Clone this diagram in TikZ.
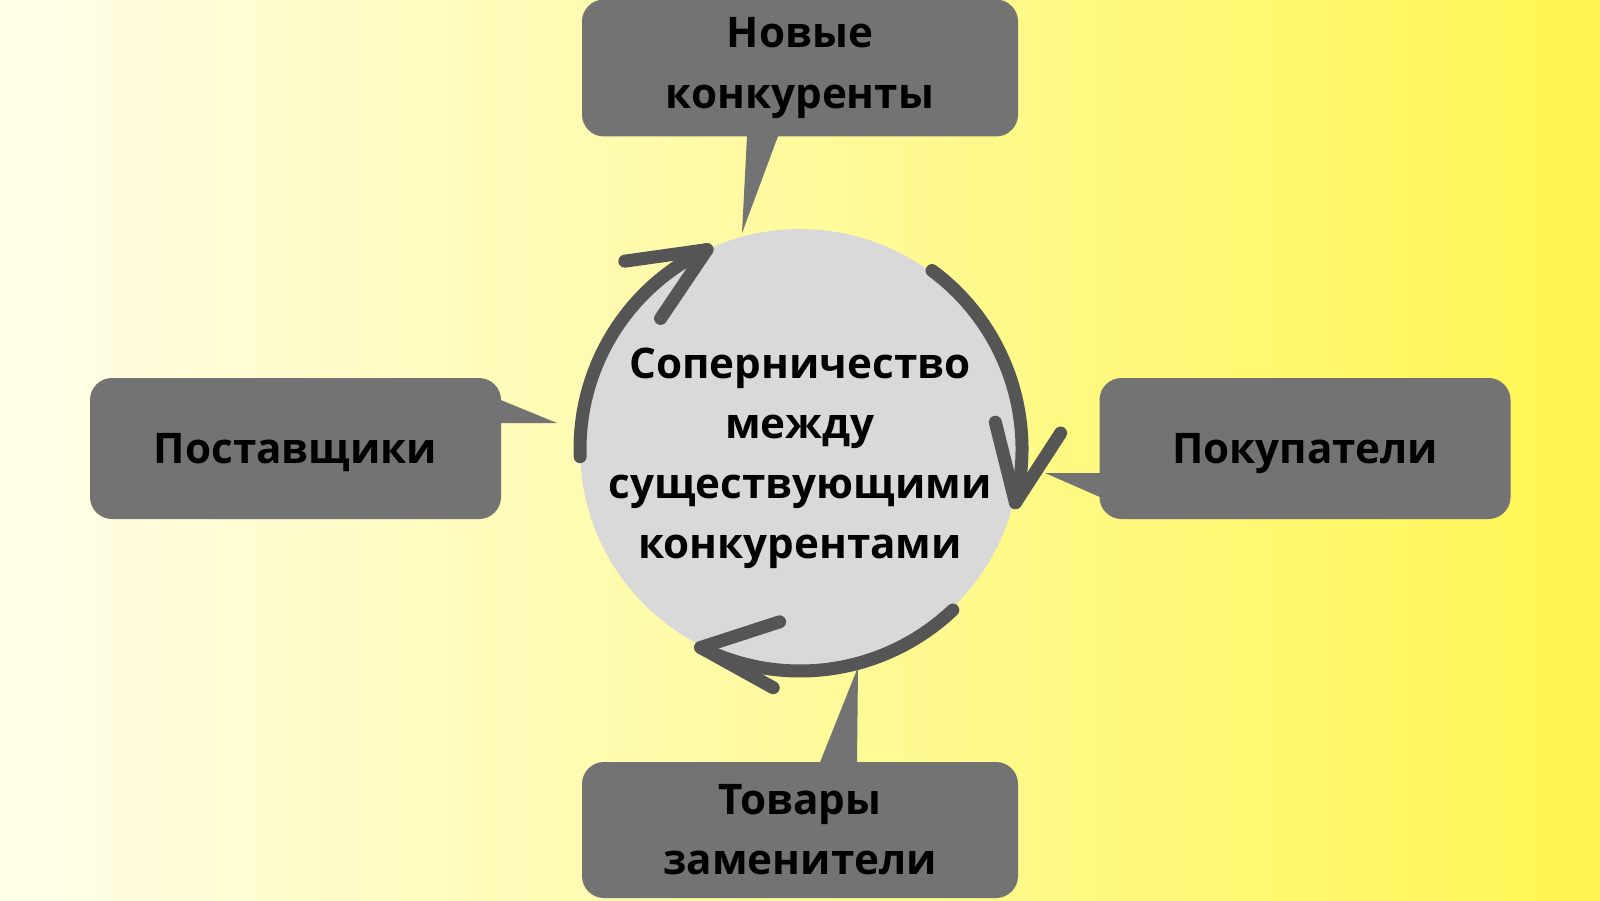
\documentclass[tikz,border=0pt]{standalone}
\usepackage{fontspec}
\setmainfont{Open Sans}
\usepackage{tikz}
\usetikzlibrary{positioning,shapes,calc}
\definecolor{boxgray}{HTML}{737373}
\definecolor{arcgray}{HTML}{555555}
\definecolor{discgray}{HTML}{D9D9D9}
\definecolor{bgpale}{HTML}{FFFEE9}
\definecolor{bgmid}{HTML}{FFFBB2}
\definecolor{bgyellow}{HTML}{FFF650}

\begin{document}
\begin{tikzpicture}[
  forcebox/.style={fill=boxgray, rounded corners=0.22cm, inner sep=0pt, align=center, font=\fontsize{12}{17.1}\selectfont\bfseries},
  circarc/.style={arcgray, line width=0.13cm, line cap=round, line join=round}
]
  \useasboundingbox (0,0) rectangle (16,9);
  \shade[left color=bgpale, middle color=bgmid, right color=bgyellow] (0,0) rectangle (16,9);
  \node[circle, fill=discgray, minimum size=4.4cm, inner sep=0pt] (rival) at (8,4.51) {};
  \node[align=center, font=\fontsize{12}{17.1}\selectfont\bfseries] (rivaltext) at (8,4.42) {Соперничество\\между\\существующими\\конкурентами};
  \node[forcebox, minimum width=4.36cm, minimum height=1.37cm] (new) at (8,8.32) {Новые\\конкуренты};
  \node[forcebox, minimum width=4.36cm, minimum height=1.36cm] (subst) at (8,0.70) {Товары\\заменители};
  \node[forcebox, text depth=0pt, minimum width=4.11cm, minimum height=1.41cm] (suppl) at (2.955,4.515) {Поставщики};
  \node[forcebox, text depth=0pt, minimum width=4.11cm, minimum height=1.41cm] (buy) at (13.05,4.515) {Покупатели};
  \coordinate (newtip) at (7.42,6.67);
  \coordinate (substtip) at (8.58,2.33);
  \coordinate (suppltip) at (5.57,4.77);
  \coordinate (buytip) at (10.45,4.27);
  \fill[boxgray] ($(new.south)+(-0.53,0.01)$) -- ($(new.south)+(-0.22,0.01)$) -- (newtip) -- cycle;
  \fill[boxgray] ($(subst.north)+(0.20,-0.01)$) -- ($(subst.north)+(0.57,-0.01)$) -- (substtip) -- cycle;
  \fill[boxgray] ($(suppl.east)+(-0.01,0.485)$) -- ($(suppl.east)+(-0.01,0.255)$) -- (suppltip) -- cycle;
  \fill[boxgray] ($(buy.west)+(0.01,-0.245)$) -- ($(buy.west)+(0.01,-0.485)$) -- (buytip) -- cycle;
  \draw[circarc] ($(rival.center)+(182:2.2)$) arc (182:115:2.2) coordinate (uphead);
  \draw[circarc] (uphead) ++(188:0.83) -- (uphead) -- ++(236:0.83);
  \draw[circarc] ($(rival.center)+(53.5:2.22)$) arc (53.5:-14:2.22) coordinate (downhead);
  \draw[circarc] (downhead) ++(104:0.83) -- (downhead) -- ++(57:0.83);
  \draw[circarc] ($(rival.center)+(-46.5:2.22)$) arc (-46.5:-116.6:2.22) coordinate (backhead);
  \draw[circarc] (backhead) ++(18:0.83) -- (backhead) -- ++(-29:0.83);
\end{tikzpicture}
\end{document}
